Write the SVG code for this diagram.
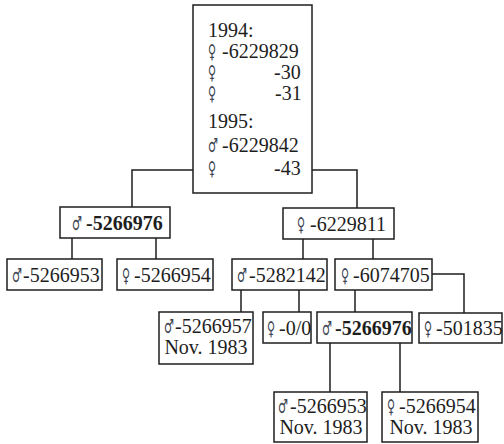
<svg xmlns="http://www.w3.org/2000/svg" width="504" height="444" viewBox="0 0 504 444">
  <style>
    .box { fill: #fff; stroke: #1e1e1e; stroke-width: 1.5; }
    .wire { fill: none; stroke: #1e1e1e; stroke-width: 1.5; }
    text { font-family: "Liberation Serif", "Times New Roman", serif; font-size: 20px; fill: #1e1e1e; }
    .sym { font-family: "DejaVu Sans ExtraLight", "DejaVu Sans", sans-serif; font-size: 19px; fill: #3c4452; }
    .b { font-weight: bold; }
    .mid { text-anchor: middle; }
  </style>
  <defs>
    <!-- narrow sex symbols, drawn with <use> at each label -->
    <text id="male" class="sym" transform="scale(0.58,1)">♂</text>
    <text id="female" class="sym" transform="scale(0.58,1)">♀</text>
  </defs>
  <rect width="504" height="444" fill="#fff"/>

  <!-- connectors -->
  <g id="connectors">
    <path class="wire" d="M193,170 H132 V207"/>
    <path class="wire" d="M312,170 H357 V208"/>
    <path class="wire" d="M72,238 V259 M156,238 V259"/>
    <path class="wire" d="M303,239 V259 M373,239 V259"/>
    <path class="wire" d="M241,290 V312 M299,290 V312"/>
    <path class="wire" d="M355,290 V312"/>
    <path class="wire" d="M432,274 H464 V313"/>
    <path class="wire" d="M330,343 V392 M400,343 V392"/>
  </g>

  <!-- founder group: symbol at the left, number flush right -->
  <g id="founders">
    <rect class="box" x="193" y="5" width="119" height="188"/>
    <text x="208" y="37">1994:</text>
    <use href="#female" x="208" y="58"/><text x="222" y="58">-6229829</text>
    <use href="#female" x="208" y="79"/><text x="274" y="79">-30</text>
    <use href="#female" x="208" y="100"/><text x="275" y="100">-31</text>
    <text x="208" y="128">1995:</text>
    <use href="#male" x="208" y="152"/><text x="222" y="152">-6229842</text>
    <use href="#female" x="208" y="175"/><text x="274" y="175">-43</text>
  </g>

  <g id="m5266976a">
    <rect class="box" x="60" y="207" width="110" height="31"/>
    <use href="#male" x="72" y="230"/><text class="b" x="86" y="230">-5266976</text>
  </g>
  <g id="m5266953a">
    <rect class="box" x="7" y="259" width="95" height="31"/>
    <use href="#male" x="12" y="282"/><text x="23" y="282">-5266953</text>
  </g>
  <g id="f5266954a">
    <rect class="box" x="117" y="259" width="96" height="31"/>
    <use href="#female" x="122" y="282"/><text x="134" y="282">-5266954</text>
  </g>

  <g id="f6229811">
    <rect class="box" x="283" y="208" width="111" height="31"/>
    <use href="#female" x="297" y="231"/><text x="310" y="231">-6229811</text>
  </g>
  <g id="m5282142">
    <rect class="box" x="232" y="259" width="95" height="31"/>
    <use href="#male" x="237" y="282"/><text x="249" y="282">-5282142</text>
  </g>
  <g id="f6074705">
    <rect class="box" x="335" y="259" width="97" height="31"/>
    <use href="#female" x="341" y="282"/><text x="353" y="282">-6074705</text>
  </g>

  <g id="m5266957">
    <rect class="box" x="159" y="312" width="94" height="52"/>
    <use href="#male" x="164" y="333"/><text x="175" y="333">-5266957</text>
    <text class="mid" x="206" y="354">Nov. 1983</text>
  </g>
  <g id="f00">
    <rect class="box" x="263" y="312" width="48" height="31"/>
    <use href="#female" x="267" y="335"/><text x="279" y="335">-0/0</text>
  </g>
  <g id="m5266976b">
    <rect class="box" x="317" y="312" width="95" height="31"/>
    <use href="#male" x="322" y="335"/><text class="b" x="335" y="335">-5266976</text>
  </g>
  <g id="f501835">
    <rect class="box" x="419" y="313" width="83" height="30"/>
    <use href="#female" x="424" y="335"/><text x="436" y="335">-501835</text>
  </g>

  <g id="m5266953b">
    <rect class="box" x="274" y="392" width="93" height="50"/>
    <use href="#male" x="278" y="413"/><text x="290" y="413">-5266953</text>
    <text class="mid" x="321" y="434">Nov. 1983</text>
  </g>
  <g id="f5266954b">
    <rect class="box" x="382" y="392" width="96" height="50"/>
    <use href="#female" x="387" y="413"/><text x="399" y="413">-5266954</text>
    <text class="mid" x="431" y="434">Nov. 1983</text>
  </g>
</svg>
